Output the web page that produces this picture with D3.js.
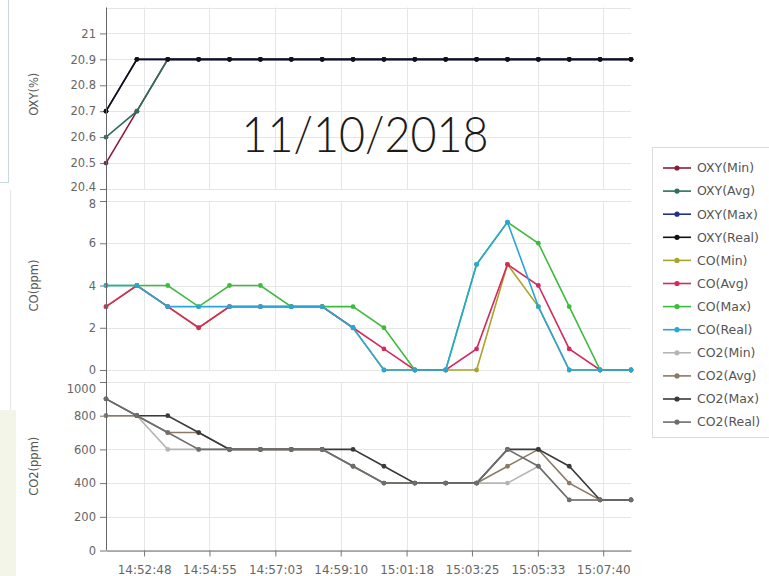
<!DOCTYPE html>
<html>
<head>
<meta charset="utf-8">
<script src="https://cdnjs.cloudflare.com/ajax/libs/d3/7.8.5/d3.min.js"></script>
<style>
body{margin:0;background:#fff;}
.canvas svg{display:block;}
</style>
</head>
<body>
<div class="canvas"></div>
<script>
// sample times (one reading a minute) and the labelled axis times
const times=['14:51:34','14:52:34','14:53:34','14:54:34','14:55:34','14:56:34','14:57:34','14:58:34','14:59:34',
  '15:00:34','15:01:34','15:02:34','15:03:34','15:04:34','15:05:34','15:06:34','15:07:34','15:08:34'];
const tickTimes=['14:52:48','14:54:55','14:57:03','14:59:10','15:01:18','15:03:25','15:05:33','15:07:40'];

const oxyMin =[20.5,20.7,20.9,20.9,20.9,20.9,20.9,20.9,20.9,20.9,20.9,20.9,20.9,20.9,20.9,20.9,20.9,20.9];
const oxyAvg =[20.6,20.7,20.9,20.9,20.9,20.9,20.9,20.9,20.9,20.9,20.9,20.9,20.9,20.9,20.9,20.9,20.9,20.9];
const oxyMax =[20.7,20.9,20.9,20.9,20.9,20.9,20.9,20.9,20.9,20.9,20.9,20.9,20.9,20.9,20.9,20.9,20.9,20.9];
const oxyReal=[20.7,20.9,20.9,20.9,20.9,20.9,20.9,20.9,20.9,20.9,20.9,20.9,20.9,20.9,20.9,20.9,20.9,20.9];

const coMin =[3,4,3,2,3,3,3,3,2,0,0,0,0,5,3,0,0,0];
const coAvg =[3,4,3,2,3,3,3,3,2,1,0,0,1,5,4,1,0,0];
const coMax =[4,4,4,3,4,4,3,3,3,2,0,0,5,7,6,3,0,0];
const coReal=[4,4,3,3,3,3,3,3,2,0,0,0,5,7,3,0,0,0];

const co2Min =[800,800,600,600,600,600,600,600,500,400,400,400,400,400,500,300,300,300];
const co2Avg =[800,800,700,700,600,600,600,600,500,400,400,400,400,500,600,400,300,300];
const co2Max =[900,800,800,700,600,600,600,600,600,500,400,400,400,600,600,500,300,300];
const co2Real=[900,800,700,600,600,600,600,600,500,400,400,400,400,600,500,300,300,300];

const oxyTicks=[20.4,20.5,20.6,20.7,20.8,20.9,21];
const coTicks=[0,2,4,6,8];
const co2Ticks=[0,200,400,600,800,1000];

const legendNames=['OXY(Min)','OXY(Avg)','OXY(Max)','OXY(Real)','CO(Min)','CO(Avg)','CO(Max)','CO(Real)',
  'CO2(Min)','CO2(Avg)','CO2(Max)','CO2(Real)'];
const legendColors=['#8b1c3c','#2e6f5e','#23308a','#111111','#a8a42c','#d42a5e','#3dbb3d','#2aa6d6',
  '#b5b5b5','#8c7a64','#3a3a3a','#6e6e6e'];

const dims={width:769,height:576,left:106,right:631};
const font='"DejaVu Sans", sans-serif';

const parse=d3.timeParse('%H:%M:%S');
const dates=times.map(parse);

const svg=d3.select('.canvas')
.append('svg')
.attr('width',dims.width)
.attr('height',dims.height);

// bits of the surrounding screen
svg.append('rect').attr('x',-1).attr('y',-1).attr('width',9.5).attr('height',183.5)
.attr('fill','none').attr('stroke','#c9d8df');
svg.append('rect').attr('x',0).attr('y',410).attr('width',16).attr('height',166).attr('fill','#f3f5e8');
svg.append('line').attr('x1',10.5).attr('x2',10.5).attr('y1',190).attr('y2',410).attr('stroke','#e3e8e3');

const x=d3.scaleTime()
.domain(d3.extent(dates))
.range([dims.left,dims.right]);

const panels=[
  {title:'OXY(%)',domain:[20.4,21.1],range:[189,7.5],ticks:oxyTicks,
   series:[oxyMin,oxyAvg,oxyMax,oxyReal],colors:legendColors.slice(0,4)},
  {title:'CO(ppm)',domain:[0,8],range:[370,201],ticks:coTicks,
   series:[coMin,coAvg,coMax,coReal],colors:legendColors.slice(4,8)},
  {title:'CO2(ppm)',domain:[0,1000],range:[550.5,382],ticks:co2Ticks,
   series:[co2Min,co2Avg,co2Max,co2Real],colors:legendColors.slice(8,12)}
];

panels.forEach((p,pi)=>{
  const y=d3.scaleLinear().domain(p.domain).range(p.range);
  const g=svg.append('g');

  // grid
  const top=y(p.domain[1]);
  g.selectAll('.hgrid')
  .data(pi===0 ? p.ticks.concat([21.1]) : p.ticks)
  .enter().append('line')
  .attr('x1',dims.left).attr('x2',dims.right)
  .attr('y1',d=>Math.round(y(d))+0.5).attr('y2',d=>Math.round(y(d))+0.5)
  .attr('stroke','#e6e6e6');
  g.selectAll('.vgrid')
  .data(tickTimes.map(parse))
  .enter().append('line')
  .attr('x1',d=>Math.round(x(d))+0.5).attr('x2',d=>Math.round(x(d))+0.5)
  .attr('y1',top).attr('y2',y(p.domain[0]))
  .attr('stroke','#e6e6e6');

  // y axis
  const axis=g.append('g')
  .attr('transform',`translate(${dims.left},0)`)
  .call(d3.axisLeft(y).tickValues(p.ticks).tickFormat(d=>d).tickSize(6).tickPadding(4));
  axis.select('.domain').remove();
  axis.selectAll('line').attr('stroke','#777');
  axis.selectAll('text').attr('fill','#666').style('font-family',font).style('font-size','11.5px');
  // labels at the panel joins are nudged apart, as in the original
  if(pi===0) axis.selectAll('text').filter(d=>d===20.4).attr('dy','0.1em');
  if(pi===1) axis.selectAll('text').filter(d=>d===8).attr('dy','0.6em');
  if(pi===2) axis.selectAll('text').filter(d=>d===1000).attr('dy','0.9em');

  g.append('text')
  .attr('transform',`translate(38,${(p.range[0]+p.range[1])/2 - (pi===0?4:0)}) rotate(-90)`)
  .attr('text-anchor','middle')
  .attr('fill','#555')
  .style('font-family',font).style('font-size','11.5px')
  .text(p.title);

  // series
  const line=d3.line()
  .x((d,i)=>x(dates[i]))
  .y(d=>y(d));

  p.series.forEach((s,si)=>{
    g.append('path')
    .datum(s)
    .attr('fill','none')
    .attr('stroke',p.colors[si])
    .attr('stroke-width',1.6)
    .attr('d',line);
    g.selectAll(null)
    .data(s)
    .enter().append('circle')
    .attr('cx',(d,i)=>x(dates[i]))
    .attr('cy',d=>y(d))
    .attr('r',2.4)
    .attr('fill',p.colors[si]);
  });
});

// shared left axis line
svg.append('line')
.attr('x1',dims.left+0.5).attr('x2',dims.left+0.5)
.attr('y1',7.5).attr('y2',550.5)
.attr('stroke','#666');

// time axis
const xAxis=svg.append('g')
.attr('transform','translate(0,550.5)')
.call(d3.axisBottom(x).tickValues(tickTimes.map(parse)).tickFormat(d3.timeFormat('%H:%M:%S'))
  .tickSize(6).tickSizeOuter(0).tickPadding(9));
xAxis.select('.domain').attr('stroke','#666');
xAxis.selectAll('line').attr('stroke','#777');
xAxis.selectAll('text').attr('fill','#666').style('font-family',font).style('font-size','12px');

// date stamp
svg.append('text')
.attr('x',365).attr('y',151.5)
.attr('text-anchor','middle')
.attr('textLength',247).attr('lengthAdjust','spacingAndGlyphs')
.attr('fill','#1a1a1a')
.style('font-family','Lato, "Open Sans", sans-serif').style('font-weight',300).style('font-size','50px')
.text('11/10/2018');

// legend
const legend=svg.append('g');
legend.append('rect')
.attr('x',652.5).attr('y',147.5).attr('width',130).attr('height',290)
.attr('fill','#fff').attr('stroke','#dcdcdc');

const items=legend.selectAll('.item')
.data(legendNames)
.enter().append('g')
.attr('transform',(d,i)=>`translate(0,${168+i*23.1})`);
items.append('line')
.attr('x1',663).attr('x2',691)
.attr('stroke',(d,i)=>legendColors[i]).attr('stroke-width',1.6);
items.append('circle')
.attr('cx',677).attr('r',2.6)
.attr('fill',(d,i)=>legendColors[i]);
items.append('text')
.attr('x',697).attr('dy','0.35em')
.attr('fill','#555')
.style('font-family',font).style('font-size','12.5px')
.text(d=>d);
</script>
</body>
</html>
